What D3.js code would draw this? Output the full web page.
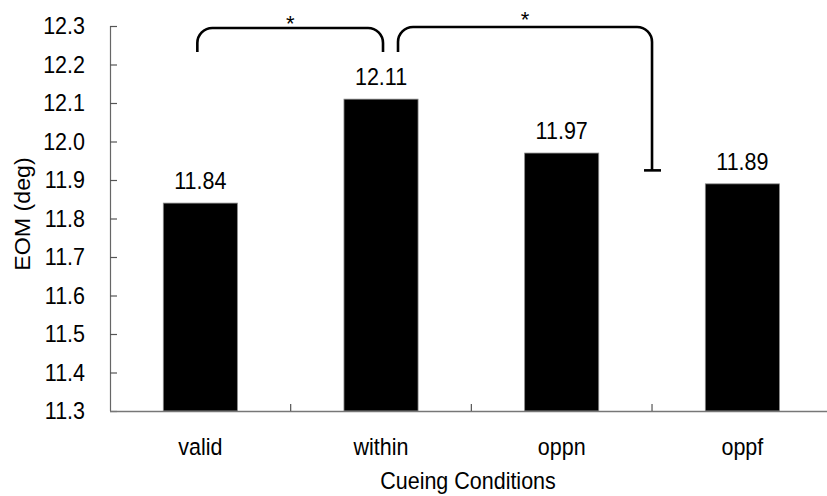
<!DOCTYPE html>
<html>
<head>
<meta charset="utf-8">
<script src="https://cdn.jsdelivr.net/npm/d3@7"></script>
<style>
  html, body { margin: 0; padding: 0; background: #fff; }
  svg { display: block; }
  text { font-family: Arial, "Liberation Sans", sans-serif; fill: #000; }
</style>
</head>
<body>
<svg id="chart" width="827" height="496"></svg>
<script>
const categories = ["valid", "within", "oppn", "oppf"];
const values = [11.84, 12.11, 11.97, 11.89];
const valueLabels = ["11.84", "12.11", "11.97", "11.89"];
const yTicks = [11.3, 11.4, 11.5, 11.6, 11.7, 11.8, 11.9, 12.0, 12.1, 12.2, 12.3];
const yTitle = "EOM (deg)";
const xTitle = "Cueing Conditions";
// significance brackets: from category -> to category (or boundary), end level of right leg
const sigLeft = { from: "valid", to: "within", label: "*" };
const sigRight = { from: "within", to: "oppf", label: "*", rightLegEnd: 11.925 };

const svg = d3.select("#chart");
const plotLeft = 110, plotRight = 832.7, plotTop = 26, plotBottom = 411;
const fs = 21.5;
const sy = 1.08; // slight vertical stretch of the reference's lettering

const x = d3.scaleBand().domain(categories).range([plotLeft, plotRight])
  .paddingInner(0.59).paddingOuter(0.295);
const y = d3.scaleLinear().domain([11.3, 12.3]).range([plotBottom, plotTop]);

function place(sel, fx, fy, rot) {
  return sel.attr("transform", (d, i) => {
    const px = typeof fx === "function" ? fx(d, i) : fx;
    const py = typeof fy === "function" ? fy(d, i) : fy;
    return `translate(${px},${py})` + (rot ? ` rotate(${rot})` : "") + ` scale(1,${sy})`;
  });
}

// bars
svg.append("g").selectAll("rect").data(categories).join("rect")
  .attr("x", d => x(d))
  .attr("y", (d, i) => y(values[i]))
  .attr("width", x.bandwidth())
  .attr("height", (d, i) => plotBottom - y(values[i]))
  .attr("fill", "#000")
  .attr("stroke", "#888")
  .attr("stroke-width", 0.8);

// value labels
place(svg.append("g").selectAll("text").data(categories).join("text"),
    d => x(d) + x.bandwidth() / 2, (d, i) => y(values[i]) - 14)
  .attr("text-anchor", "middle")
  .attr("font-size", fs)
  .text((d, i) => valueLabels[i]);

// y axis
const yAxis = d3.axisRight(y).tickValues(yTicks).tickSize(7).tickFormat("");
const gy = svg.append("g").attr("transform", `translate(${plotLeft},0)`).call(yAxis);
gy.select(".domain").attr("stroke", "#666").attr("stroke-width", 1.2).attr("d", `M0.5,${plotTop}V${plotBottom}`);
gy.selectAll(".tick line").attr("stroke", "#555").attr("stroke-width", 1.2);
place(svg.append("g").selectAll("text").data(yTicks).join("text"), 85, d => y(d))
  .attr("dy", "0.36em")
  .attr("text-anchor", "end")
  .attr("font-size", fs)
  .text(d => d3.format(".1f")(d));

// x axis
const step = x.step();
const boundaries = categories.slice(1).map(c => x(c) - step * x.paddingInner() / 2);
svg.append("line")
  .attr("x1", plotLeft).attr("x2", 827)
  .attr("y1", plotBottom + 0.5).attr("y2", plotBottom + 0.5)
  .attr("stroke", "#777").attr("stroke-width", 1.4);
svg.append("g").selectAll("line").data(boundaries).join("line")
  .attr("x1", d => d).attr("x2", d => d)
  .attr("y1", plotBottom).attr("y2", plotBottom - 7)
  .attr("stroke", "#555").attr("stroke-width", 1.2);
place(svg.append("g").selectAll("text").data(categories).join("text"),
    d => x(d) + x.bandwidth() / 2, 455)
  .attr("text-anchor", "middle")
  .attr("font-size", fs)
  .text(d => d);

// axis titles
place(svg.append("text"), 468, 489)
  .attr("text-anchor", "middle")
  .attr("font-size", fs)
  .text(xTitle);
svg.append("text")
  .attr("transform", `translate(30,214) rotate(-90) scale(${sy},1)`)
  .attr("text-anchor", "middle")
  .attr("font-size", fs)
  .text(yTitle);

// significance brackets
const r = 15;
function bracketPath(x1, x2, yTop, yLeftEnd, yRightEnd) {
  return `M${x1},${yLeftEnd} V${yTop + r} A${r},${r} 0 0 1 ${x1 + r},${yTop} H${x2 - r} A${r},${r} 0 0 1 ${x2},${yTop + r} V${yRightEnd}`;
}
const cx = c => x(c) + x.bandwidth() / 2;
const lx1 = cx(sigLeft.from) - 3, lx2 = cx(sigLeft.to) + 2;
svg.append("path")
  .attr("d", bracketPath(lx1, lx2, 28, 52, 52))
  .attr("fill", "none").attr("stroke", "#000").attr("stroke-width", 2.6);
svg.append("text")
  .attr("x", (lx1 + lx2) / 2).attr("y", 31)
  .attr("text-anchor", "middle")
  .attr("font-family", "'Liberation Serif', 'Times New Roman', serif")
  .attr("font-size", 22)
  .text(sigLeft.label);

const rx1 = cx(sigRight.from) + 17;
const rx2 = boundaries[2];
const ry2 = y(sigRight.rightLegEnd);
svg.append("path")
  .attr("d", bracketPath(rx1, rx2, 27, 52, ry2))
  .attr("fill", "none").attr("stroke", "#000").attr("stroke-width", 2.6);
svg.append("line")
  .attr("x1", rx2 - 8).attr("x2", rx2 + 9)
  .attr("y1", ry2).attr("y2", ry2)
  .attr("stroke", "#000").attr("stroke-width", 2.6);
svg.append("text")
  .attr("x", (rx1 + rx2) / 2).attr("y", 27)
  .attr("text-anchor", "middle")
  .attr("font-family", "'Liberation Serif', 'Times New Roman', serif")
  .attr("font-size", 22)
  .text(sigRight.label);
</script>
</body>
</html>
